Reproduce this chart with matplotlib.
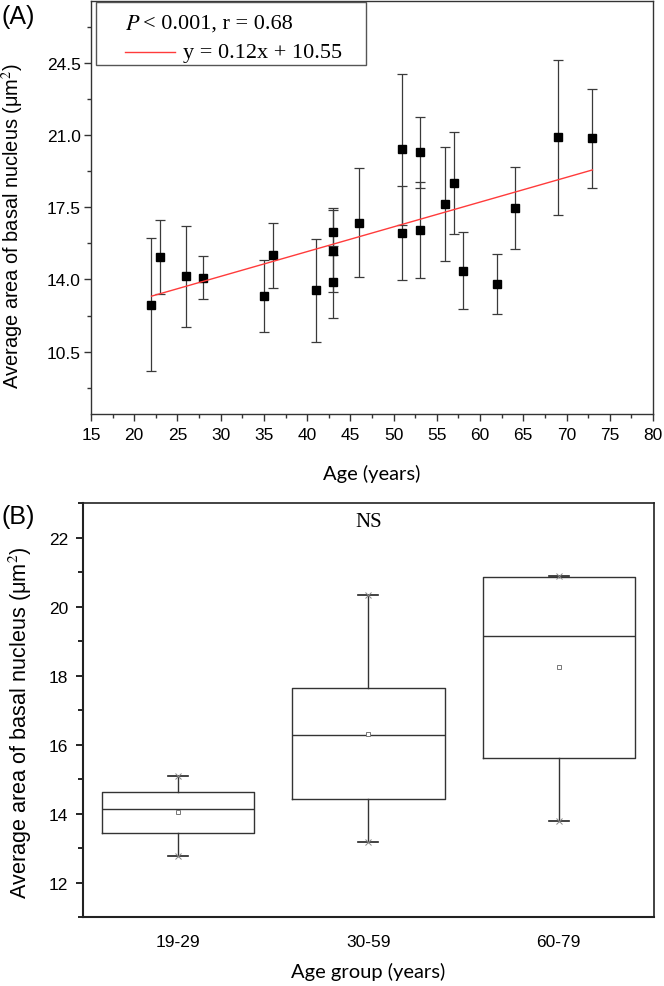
import numpy as np
import matplotlib
matplotlib.use('Agg')
import matplotlib.pyplot as plt
from matplotlib.lines import Line2D
from matplotlib.patches import Rectangle
from matplotlib.ticker import MultipleLocator, FixedLocator, FormatStrFormatter

# ---------------- data: panel A ----------------
ages = [22, 23, 26, 28, 35, 36, 41, 43, 43, 43, 46, 51, 51, 53, 53, 56, 57, 58, 62, 64, 69, 73]
mean_area = [12.78, 15.10, 14.16, 14.08, 13.19, 15.18, 13.48, 16.32, 15.38, 13.87, 16.76,
             20.32, 16.25, 20.17, 16.40, 17.65, 18.67, 14.42, 13.77, 17.47, 20.89, 20.84]
sd_area = [3.23, 1.80, 2.45, 1.05, 1.75, 1.57, 2.50, 1.12, 2.00, 1.75, 2.63,
           3.66, 2.26, 1.72, 2.32, 2.75, 2.47, 1.87, 1.46, 2.00, 3.77, 2.41]
fit_slope = 0.12
fit_intercept = 10.55
stat_text = "< 0.001, r = 0.68"
fit_text = "y = 0.12x + 10.55"
yticks_A = [10.5, 14.0, 17.5, 21.0, 24.5]

# ---------------- data: panel B ----------------
groups = ['19-29', '30-59', '60-79']
q1 = [13.45, 14.43, 15.63]
med = [14.15, 16.29, 19.16]
q3 = [14.63, 17.65, 20.87]
whislo = [12.79, 13.19, 13.80]
whishi = [15.09, 20.33, 20.89]
grp_mean = [14.05, 16.31, 18.25]

SANS = ['Liberation Sans', 'DejaVu Sans']
SERIF = ['Liberation Serif', 'DejaVu Serif']
LABEL = ['Lato', 'DejaVu Sans']
plt.rcParams['font.family'] = SANS
plt.rcParams['mathtext.fontset'] = 'stix'

fig = plt.figure(figsize=(6.64, 9.87), dpi=100)
fig.patch.set_facecolor('white')

# ================= Panel A =================
axA = fig.add_axes([0.1370, 0.5800, 0.8464, 0.4180])
axA.errorbar(ages, mean_area, yerr=sd_area, fmt='s', color='black', ms=6.3,
             ecolor='#3a3a3a', elinewidth=0.9, capsize=3.6, capthick=0.9, zorder=3)
xs = np.array([min(ages), max(ages)], dtype=float)
axA.plot(xs, fit_slope * xs + fit_intercept, color='#ff3b3b', lw=1.0, zorder=4)

axA.set_xlim(15, 80)
axA.set_ylim(7.5, 27.5)
axA.xaxis.set_major_locator(MultipleLocator(5))
axA.xaxis.set_minor_locator(MultipleLocator(2.5))
axA.yaxis.set_major_locator(FixedLocator(yticks_A))
axA.yaxis.set_minor_locator(FixedLocator([v - 1.75 for v in yticks_A] + [yticks_A[-1] + 1.75]))
axA.yaxis.set_major_formatter(FormatStrFormatter('%.1f'))
axA.tick_params(axis='both', which='major', direction='out', length=5, width=1.0,
                labelsize=12.5, color='#333333')
axA.tick_params(axis='both', which='minor', direction='out', length=3, width=1.0, color='#333333')
axA.tick_params(axis='y', which='major', pad=2.5)
axA.tick_params(axis='x', which='major', pad=5)
for sp in axA.spines.values():
    sp.set_linewidth(1.0)
    sp.set_color('#333333')

axA.set_xlabel('Age (years)', family=LABEL, fontsize=14.5)
axA.xaxis.set_label_coords(0.5, -0.122)
axA.set_ylabel('Average area of basal nucleus (μm$^2$)', fontsize=14.4)
axA.yaxis.set_label_coords(-0.1157, 0.456)

# legend box
axA.add_patch(Rectangle((0.009, 0.845), 0.48, 0.153, transform=axA.transAxes,
                        fill=False, edgecolor='#555555', lw=1.0, zorder=5))
axA.text(0.0605, 0.9466, '$P$ ', transform=axA.transAxes, fontsize=16, va='center', ha='left')
axA.text(0.092, 0.9466, stat_text, transform=axA.transAxes, family=SERIF, fontsize=16,
         va='center', ha='left')
axA.add_line(Line2D([0.0605, 0.149], [0.876, 0.876], transform=axA.transAxes,
                    color='#ff3b3b', lw=1.0))
axA.text(0.164, 0.876, fit_text, transform=axA.transAxes, family=SERIF, fontsize=16,
         va='center', ha='left')

fig.text(0.003, 0.983, '(A)', fontsize=18, va='center', ha='left')

# ================= Panel B =================
axB = fig.add_axes([0.1250, 0.0696, 0.8599, 0.4195])
stats = []
for i in range(len(groups)):
    stats.append(dict(med=med[i], q1=q1[i], q3=q3[i], whislo=whislo[i], whishi=whishi[i],
                      mean=grp_mean[i], label=groups[i]))
pos = np.arange(1, len(groups) + 1)
axB.bxp(stats, positions=pos, widths=0.8, showmeans=True, showfliers=False,
        boxprops=dict(color='#333333', lw=1.0),
        medianprops=dict(color='#333333', lw=1.0),
        whiskerprops=dict(color='#333333', lw=1.0),
        capprops=dict(color='#222222', lw=1.2),
        capwidths=0.105,
        meanprops=dict(marker='s', markersize=3.5, markerfacecolor='white',
                       markeredgecolor='#777777', markeredgewidth=0.7))
axB.plot(pos, whishi, ls='none', marker='x', ms=5, color='#888888', mew=0.7, zorder=4)
axB.plot(pos, whislo, ls='none', marker='x', ms=5, color='#888888', mew=0.7, zorder=4)

axB.set_xlim(0.5, 3.5)
axB.set_ylim(11, 23)
axB.yaxis.set_major_locator(MultipleLocator(2))
axB.yaxis.set_minor_locator(MultipleLocator(1))
axB.set_xticks(pos)
axB.set_xticklabels(groups)
axB.tick_params(axis='x', which='both', length=0, labelsize=12.5, pad=12)
axB.tick_params(axis='y', which='major', direction='out', length=5, width=1.2,
                labelsize=12.5, pad=5.5)
axB.tick_params(axis='y', which='minor', direction='out', length=3.5, width=1.2)
for name, sp in axB.spines.items():
    sp.set_linewidth(1.5 if name in ('left', 'bottom') else 1.2)
    sp.set_color('#222222')

axB.text(0.5, 0.955, 'NS', transform=axB.transAxes, family=SERIF, fontsize=15,
         ha='center', va='center')
axB.set_xlabel('Age group (years)', family=LABEL, fontsize=14.5)
axB.xaxis.set_label_coords(0.5, -0.108)
axB.set_ylabel('Average area of basal nucleus (μm$^2$)', fontsize=15.6)
axB.yaxis.set_label_coords(-0.0858, 0.472)

fig.text(0.003, 0.4765, '(B)', fontsize=18, va='center', ha='left')

fig.savefig('out.png', dpi=100, facecolor='white')
